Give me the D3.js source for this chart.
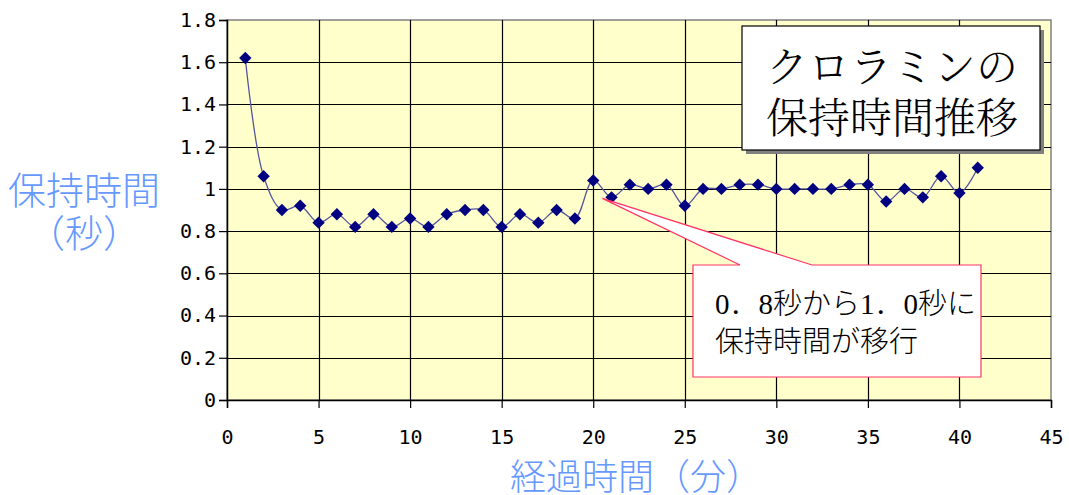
<!DOCTYPE html>
<html>
<head>
<meta charset="utf-8">
<script src="https://cdn.jsdelivr.net/npm/d3@7"></script>
<style>
  html, body { margin: 0; padding: 0; background: #ffffff; }
  svg { display: block; }
</style>
</head>
<body>
<svg id="chart" width="1069" height="495"></svg>
<script>
// Elapsed time (minutes) and chloramine retention time (seconds)
const minutes = [1,2,3,4,5,6,7,8,9,10,11,12,13,14,15,16,17,18,19,20,
                 21,22,23,24,25,26,27,28,29,30,31,32,33,34,35,36,37,38,39,40,41];
const retention = [1.62,1.06,0.90,0.92,0.84,0.88,0.82,0.88,0.82,0.86,
                   0.82,0.88,0.90,0.90,0.82,0.88,0.84,0.90,0.86,1.04,
                   0.96,1.02,1.00,1.02,0.92,1.00,1.00,1.02,1.02,1.00,
                   1.00,1.00,1.00,1.02,1.02,0.94,1.00,0.96,1.06,0.98,1.10];
const xTicks = [0,5,10,15,20,25,30,35,40,45];
const yTicks = [0,0.2,0.4,0.6,0.8,1,1.2,1.4,1.6,1.8];
const yTickLabels = ["0","0.2","0.4","0.6","0.8","1","1.2","1.4","1.6","1.8"];
const titleLines = ["クロラミンの", "保持時間推移"];
const noteLines = ["0．8秒から1．0秒に", "保持時間が移行"];
const xTitle = "経過時間（分）";
const yTitleLines = ["保持時間", "（秒）"];

const svg = d3.select("#chart");
const plot = { left: 227, right: 1051, top: 20, bottom: 400 };

const x = d3.scaleLinear().domain([0, 45]).range([plot.left, plot.right]);
const y = d3.scaleLinear().domain([0, 1.8]).range([plot.bottom, plot.top]);

// plot background
svg.append("rect")
  .attr("x", plot.left).attr("y", plot.top)
  .attr("width", plot.right - plot.left).attr("height", plot.bottom - plot.top)
  .attr("fill", "#FFFFCC").attr("stroke", "#808080").attr("stroke-width", 1.5);

// grid lines
const grid = svg.append("g").attr("stroke", "#000").attr("stroke-width", 1.2);
grid.selectAll("line.h").data(yTicks.filter(d => d > 0 && d < 1.8)).join("line")
  .attr("x1", plot.left).attr("x2", plot.right)
  .attr("y1", d => Math.round(y(d)) + 0.5).attr("y2", d => Math.round(y(d)) + 0.5);
grid.selectAll("line.v").data(xTicks.filter(d => d > 0 && d < 45)).join("line")
  .attr("y1", plot.top).attr("y2", plot.bottom)
  .attr("x1", d => Math.round(x(d)) + 0.5).attr("x2", d => Math.round(x(d)) + 0.5);

// axes
const tickFont = "'DejaVu Sans Mono', 'Liberation Mono', monospace";
const xAxis = svg.append("g")
  .attr("transform", `translate(0,${plot.bottom})`)
  .call(d3.axisBottom(x).tickValues(xTicks).tickSize(8).tickPadding(22).tickFormat(d3.format("d")));
const yAxis = svg.append("g")
  .attr("transform", `translate(${plot.left},0)`)
  .call(d3.axisLeft(y).tickValues(yTicks).tickSize(8).tickPadding(3)
    .tickFormat((d, i) => yTickLabels[i]));
[xAxis, yAxis].forEach(g => {
  g.select(".domain").attr("stroke", "#000").attr("stroke-width", 1.5);
  g.selectAll(".tick line").attr("stroke", "#000").attr("stroke-width", 1.2);
  g.selectAll(".tick text").attr("fill", "#000")
    .style("font-family", tickFont).style("font-size", "20px");
});

// smoothed data line
const line = d3.line()
  .x((d, i) => x(minutes[i]))
  .y(d => y(d))
  .curve(d3.curveCatmullRom.alpha(0.5));
svg.append("path")
  .datum(retention)
  .attr("d", line)
  .attr("fill", "none")
  .attr("stroke", "#55559E")
  .attr("stroke-width", 1.3);

// diamond markers
const diamond = d3.symbol().type(d3.symbolDiamond2).size(98);
svg.append("g").selectAll("path")
  .data(retention).join("path")
  .attr("d", diamond)
  .attr("transform", (d, i) => `translate(${x(minutes[i])},${y(d)})`)
  .attr("fill", "#000080");

// axis titles
const titleFont = "'Noto Sans CJK JP', sans-serif";
svg.append("text")
  .attr("x", 636).attr("y", 490)
  .attr("text-anchor", "middle")
  .attr("fill", "#6699FF")
  .style("font-family", titleFont).style("font-size", "36px").style("font-weight", 300)
  .text(xTitle);
svg.append("g").selectAll("text").data(yTitleLines).join("text")
  .attr("x", 84).attr("y", (d, i) => 204 + i * 43)
  .attr("text-anchor", "middle")
  .attr("fill", "#6699FF")
  .style("font-family", titleFont).style("font-size", "38px").style("font-weight", 300)
  .text(d => d);

// chart title box with shadow
const tb = { x: 742, y: 26, w: 298, h: 124 };
svg.append("rect")
  .attr("x", tb.x + 4).attr("y", tb.y + 4).attr("width", tb.w).attr("height", tb.h)
  .attr("fill", "#808080");
svg.append("rect")
  .attr("x", tb.x).attr("y", tb.y).attr("width", tb.w).attr("height", tb.h)
  .attr("fill", "#fff").attr("stroke", "#000").attr("stroke-width", 1.2);
svg.append("g").selectAll("text").data(titleLines).join("text")
  .attr("x", tb.x + tb.w / 2 + 1).attr("y", (d, i) => 82 + i * 51)
  .attr("text-anchor", "middle")
  .attr("fill", "#000")
  .style("font-family", "'Noto Serif CJK JP', 'Noto Sans CJK JP', serif")
  .style("font-size", "42px").style("font-weight", 300)
  .text(d => d);

// callout pointing at the shift around minute 20
const cb = { x: 693, y: 265, w: 288, h: 112 };
const tip = [x(20.5), y(0.955)];
const callout = d3.path();
callout.moveTo(cb.x, cb.y);
callout.lineTo(740, cb.y);
callout.lineTo(tip[0], tip[1]);
callout.lineTo(812, cb.y);
callout.lineTo(cb.x + cb.w, cb.y);
callout.lineTo(cb.x + cb.w, cb.y + cb.h);
callout.lineTo(cb.x, cb.y + cb.h);
callout.closePath();
svg.append("path")
  .attr("d", callout.toString())
  .attr("fill", "#fff").attr("stroke", "#FF3366").attr("stroke-width", 1.2);
svg.append("g").selectAll("text").data(noteLines).join("text")
  .attr("x", 715).attr("y", (d, i) => 314 + i * 38)
  .attr("fill", "#000")
  .style("font-family", "'Liberation Serif', 'Noto Sans CJK JP', serif")
  .style("font-size", "29px").style("font-weight", 300)
  .text(d => d);
</script>
</body>
</html>
